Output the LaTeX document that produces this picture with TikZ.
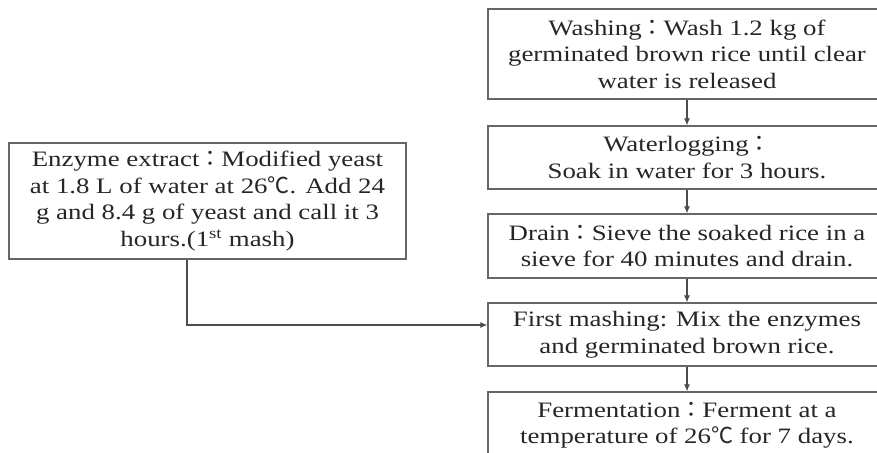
\documentclass[tikz,border=0pt]{standalone}
\usepackage{fontspec}
\setmainfont[FakeStretch=1.22]{Liberation Serif}
\newfontfamily\cjk{Noto Sans CJK KR}
\usetikzlibrary{arrows.meta}

\newcommand{\fwc}{{\cjk ：}}
\newcommand{\degc}{{\cjk ℃}}

\begin{document}
\begin{tikzpicture}[x=1pt, y=-1pt, semithick,
stepbox/.style = { draw = black!60, line width = 1.3pt, inner sep = 0pt, align = center,
  text = black!85, font = \fontsize{22}{26.5}\selectfont, minimum width = 398pt},
flow/.style = { draw = black!70, line width = 1.1pt, -{Latex[length=7pt, width=6pt]} }]
\clip (0,0) rectangle (877,452);
\node[stepbox, minimum height = 90pt] (wash) at (687,54)
  {Washing\fwc Wash 1.2 kg of\\ germinated brown rice until clear\\ water is released};
\node[stepbox, minimum height = 63pt] (soak) at (687,157.5)
  {Waterlogging\fwc\\ Soak in water for 3 hours.};
\node[stepbox, minimum height = 64pt] (drain) at (687,246)
  {Drain\fwc Sieve the soaked rice in a\\ sieve for 40 minutes and drain.};
\node[stepbox, minimum height = 63pt] (mash) at (687,334.5)
  {First mashing: Mix the enzymes\\ and germinated brown rice.};
\node[stepbox, minimum height = 66pt] (ferm) at (687,425)
  {Fermentation\fwc Ferment at a\\ temperature of 26\degc{} for 7 days.};
\node[stepbox, minimum height = 116pt, minimum width = 397pt] (enzyme) at (207.5,201)
  {Enzyme extract\fwc Modified yeast\\ at 1.8 L of water at 26\degc. Add 24\\ g and 8.4 g of yeast and call it 3\\ hours.(1\textsuperscript{st} mash)};
\coordinate (bend) at (187,325);
\path[flow] (wash) -- (soak);
\path[flow] (soak) -- (drain);
\path[flow] (drain) -- (mash);
\path[flow] (mash) -- (ferm);
\path[flow] (enzyme.south -| bend) -- (bend) -- (bend -| mash.west);
\end{tikzpicture}
\end{document}
